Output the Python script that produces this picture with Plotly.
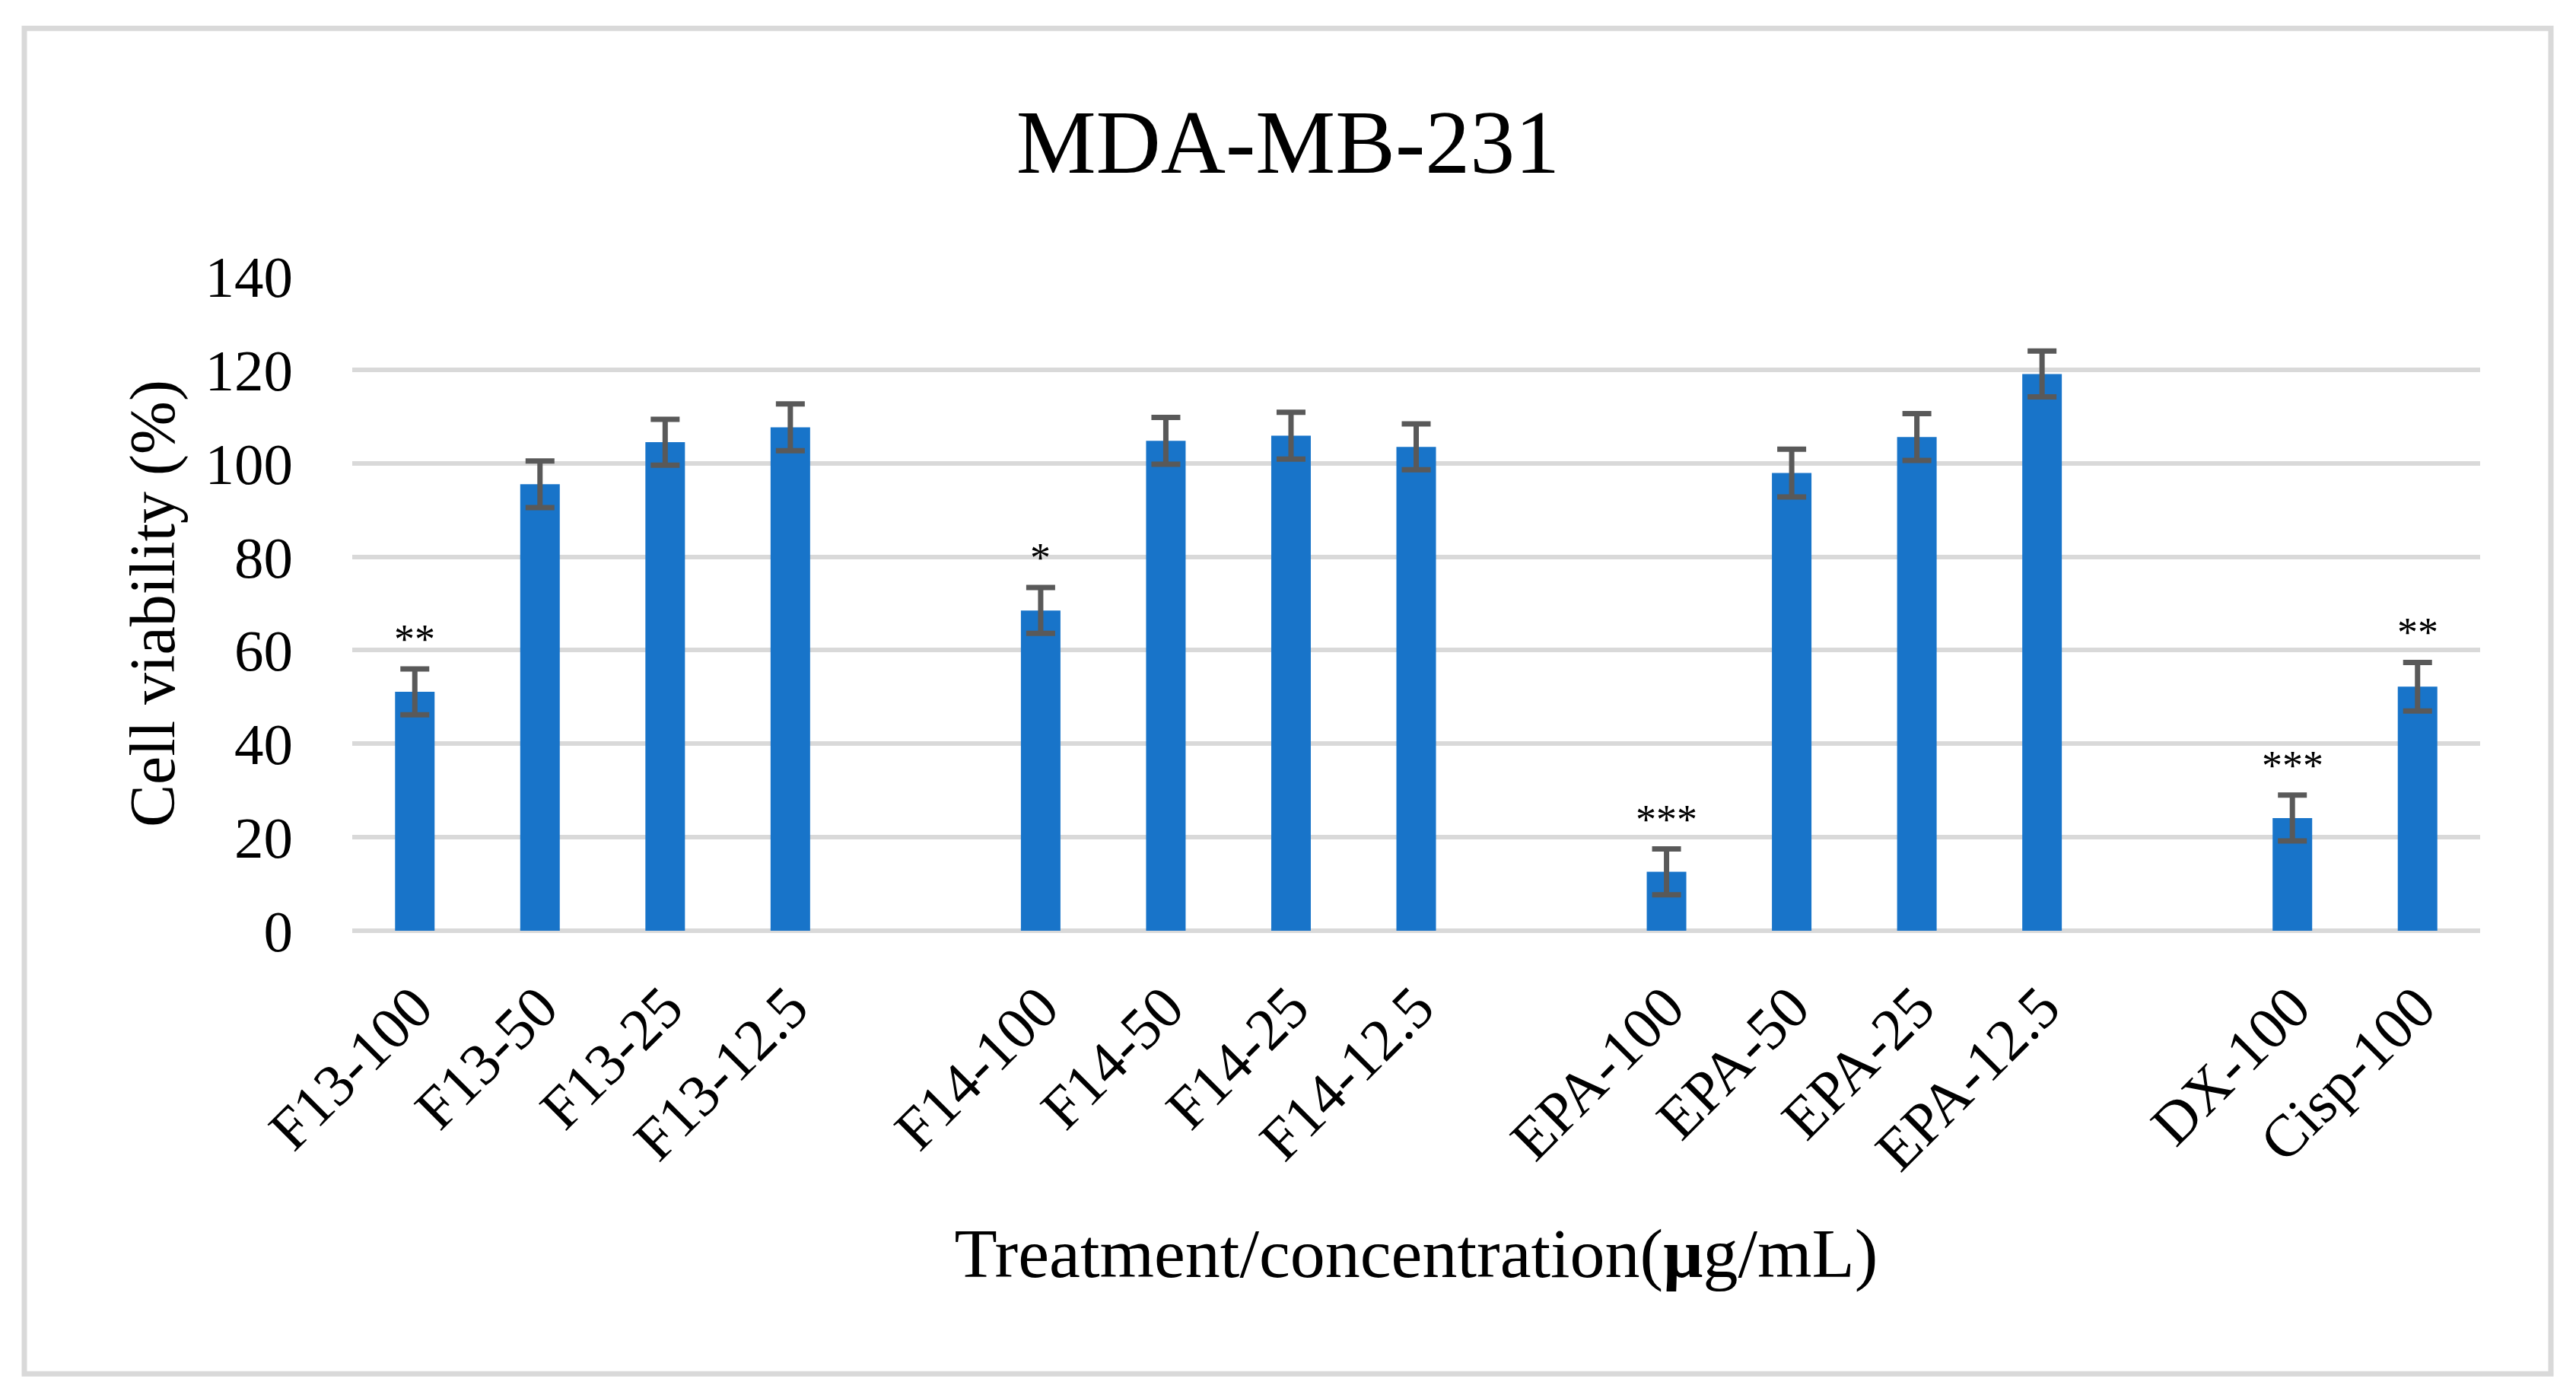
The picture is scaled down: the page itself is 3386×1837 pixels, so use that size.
import plotly.graph_objects as go

# ---- data ----
categories = ["F13-100", "F13-50", "F13-25", "F13-12.5", " ",
              "F14-100", "F14-50", "F14-25", "F14-12.5", "  ",
              "EPA-100", "EPA-50", "EPA-25", "EPA-12.5", "   ",
              "DX-100", "Cisp-100"]
viability = [51.1, 95.5, 104.5, 107.7, None,
             68.5, 104.8, 105.9, 103.5, None,
             12.6, 97.9, 105.6, 119.1, None,
             24.1, 52.2]
sd = [4.9, 5.0, 4.9, 5.0, None,
      4.9, 5.0, 5.0, 4.9, None,
      4.9, 5.1, 5.0, 4.9, None,
      4.9, 5.2]
significance = ["**", "", "", "", "",
                "*", "", "", "", "",
                "***", "", "", "", "",
                "***", "**"]
y_ticks = [0, 20, 40, 60, 80, 100, 120, 140]

FONT = "Liberation Serif"
PAGE_OFF = 8                      # default body margin of the html page
W, H = 3386 - PAGE_OFF, 1837 - PAGE_OFF
ML, MT = 463 - PAGE_OFF, 363 - PAGE_OFF
MR = W - (3260 - PAGE_OFF)
MB = H - (1223.5 - PAGE_OFF)

fig = go.Figure()
fig.add_trace(go.Bar(
    x=categories, y=viability,
    marker=dict(color="#1874C9", line=dict(width=0)),
    error_y=dict(type="data", array=sd, visible=True,
                 color="#595959", thickness=7, width=19),
    showlegend=False,
))

for c, v, e, s in zip(categories, viability, sd, significance):
    if s and v is not None:
        fig.add_annotation(x=c, y=v + e, text=s, showarrow=False,
                           xref="x", yref="y", yanchor="bottom", yshift=7,
                           font=dict(family=FONT, size=54, color="black"))

# outer frame (page pixel positions converted to paper coords)
pw = W - ML - MR
ph = H - MT - MB
def px_to_paper_x(px):
    return (px - PAGE_OFF - ML) / pw
def px_to_paper_y(py):
    return (H - MB - (py - PAGE_OFF)) / ph
fig.add_shape(type="rect", xref="paper", yref="paper",
              x0=px_to_paper_x(32), x1=px_to_paper_x(3353),
              y0=px_to_paper_y(1806), y1=px_to_paper_y(37),
              line=dict(color="#D9D9D9", width=7), fillcolor="rgba(0,0,0,0)",
              layer="below")

fig.update_layout(
    width=W, height=H,
    margin=dict(l=ML, r=MR, t=MT, b=MB, autoexpand=False),
    paper_bgcolor="white", plot_bgcolor="white",
    bargap=0.684,
    font=dict(family=FONT, color="black"),
    title=dict(text="MDA-MB-231", x=(1693 - PAGE_OFF) / W, xref="container",
               xanchor="center",
               y=1 - (186 - PAGE_OFF) / H, yref="container", yanchor="middle",
               font=dict(family=FONT, size=118, color="black")),
    xaxis=dict(type="category", categoryorder="array", categoryarray=categories,
               tickangle=-45, tickfont=dict(family=FONT, size=78, color="black"),
               showgrid=False, showline=False, ticks="", automargin=False,
               ticklabelstandoff=38,
               title=dict(text="Treatment/concentration(<b>μ</b>g/mL)",
                          font=dict(family=FONT, size=92, color="black"),
                          standoff=59)),
    yaxis=dict(range=[0, 140], tickvals=y_ticks, showgrid=True,
               gridcolor="#D9D9D9", gridwidth=6,
               zeroline=True, zerolinecolor="#D9D9D9", zerolinewidth=6,
               showline=False, ticks="", ticklabelstandoff=77,
               tickfont=dict(family=FONT, size=77, color="black"),
               automargin=False,
               title=dict(text="Cell viability (%)",
                          font=dict(family=FONT, size=84, color="black"),
                          standoff=12)),
)

fig.write_html("out.html")
